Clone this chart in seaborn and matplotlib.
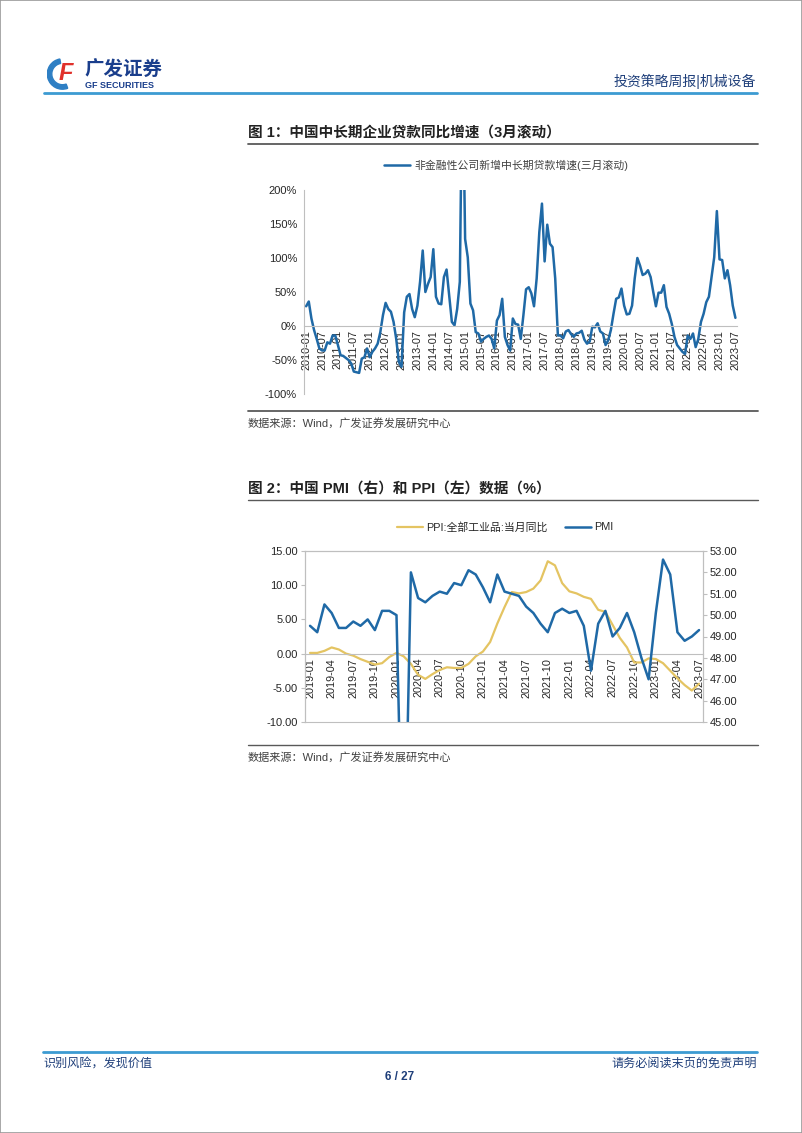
import matplotlib
matplotlib.use("Agg")
import matplotlib.pyplot as plt
import seaborn as sns
import pandas as pd
from matplotlib.lines import Line2D
from matplotlib.patches import Rectangle, Wedge
from matplotlib.ticker import FuncFormatter

# 图1：中长期企业贷款同比增速（3月滚动），月度，2010-01 起
loan_start = "2010-01"
loan_label = "非金融性公司新增中长期贷款增速(三月滚动)"
loan_growth = [
    29, 36, 11, -6, -19, -33, -36, -36, -24, -26, -14, -14,      # 2010
    -28, -43, -44, -47, -50, -55, -67, -68, -69, -48, -46, -33,  # 2011
    -46, -38, -33, -26, -9, 16, 34, 25, 21, 6, -19, -53,         # 2012
    -60, 20, 43, 47, 25, 13, 30, 65, 111, 50, 62, 72,            # 2013
    113, 43, 33, 32, 72, 83, 45, 6, 1, 25, 65, 400,              # 2014
    128, 101, 33, 23, -9, -11, -23, -19, -16, -14, -19, -33,     # 2015
    8, 16, 40, -16, -28, -36, 11, 3, 2, -19, 16, 54,             # 2016
    57, 48, 29, 70, 138, 180, 95, 149, 121, 116, 70, -14,        # 2017
    -14, -18, -8, -6, -12, -16, -11, -10, -7, -20, -26, -23,     # 2018
    -1, -2, 4, -8, -11, -28, -21, -6, 18, 40, 42, 55,            # 2019
    30, 17, 18, 30, 70, 100, 89, 75, 77, 82, 72, 50,             # 2020
    29, 49, 49, 60, 28, 18, 3, -16, -28, -33, -38, -41,          # 2021
    -14, -19, -11, -31, -19, 6, 18, 35, 43, 72, 101, 169,        # 2022
    98, 97, 70, 82, 60, 30, 12,                                  # 2023
]

# 图2：PMI（右轴）和 PPI（左轴），月度，2019-01 起
macro_start = "2019-01"
ppi_label = "PPI:全部工业品:当月同比"
pmi_label = "PMI"
ppi = [
    0.1, 0.1, 0.4, 0.9, 0.6, 0.0, -0.3, -0.8, -1.2, -1.6, -1.4, -0.5,
    0.1, -0.4, -1.5, -3.1, -3.7, -3.0, -2.4, -2.0, -2.1, -2.1, -1.5, -0.4,
    0.3, 1.7, 4.4, 6.8, 9.0, 8.8, 9.0, 9.5, 10.7, 13.5, 12.9, 10.3,
    9.1, 8.8, 8.3, 8.0, 6.4, 6.1, 4.2, 2.3, 0.9, -1.3, -1.3, -0.7,
    -0.8, -1.4, -2.5, -3.6, -4.6, -5.4, -4.4,
]
pmi = [
    49.5, 49.2, 50.5, 50.1, 49.4, 49.4, 49.7, 49.5, 49.8, 49.3, 50.2, 50.2,
    50.0, 35.7, 52.0, 50.8, 50.6, 50.9, 51.1, 51.0, 51.5, 51.4, 52.1, 51.9,
    51.3, 50.6, 51.9, 51.1, 51.0, 50.9, 50.4, 50.1, 49.6, 49.2, 50.1, 50.3,
    50.1, 50.2, 49.5, 47.4, 49.6, 50.2, 49.0, 49.4, 50.1, 49.2, 48.0, 47.0,
    50.1, 52.6, 51.9, 49.2, 48.8, 49.0, 49.3,
]

BLUE = "#1F69A6"
YELLOW = "#E4C462"
AXIS_GRAY = "#BFBFBF"
RULE_GRAY = "#595959"
NAVY = "#1F3F7A"
HEAD_BLUE = "#3C9BD2"

sns.set_style("white")
plt.rcParams["font.family"] = ["Liberation Sans", "Noto Sans CJK SC"]
plt.rcParams["axes.unicode_minus"] = False

W, H = 802, 1133


def fx(px):
    return px / W


def fy(py):
    return 1 - py / H


def hline(y, x0, x1, color, lw):
    fig.add_artist(Line2D([fx(x0), fx(x1)], [fy(y), fy(y)],
                          transform=fig.transFigure, color=color, lw=lw))


fig = plt.figure(figsize=(W / 100, H / 100), dpi=100)

# 页面边框
fig.add_artist(Rectangle((0, 0), 1, 1, transform=fig.transFigure,
                         fill=False, edgecolor="#9A9A9A", lw=1.2))

# 页眉
ax_logo = fig.add_axes([fx(45), fy(90), fx(80) - fx(45), fy(58) - fy(90)])
ax_logo.set_xlim(-1, 1)
ax_logo.set_ylim(-1, 1)
ax_logo.set_aspect("equal")
ax_logo.axis("off")
ax_logo.add_patch(Wedge((0, 0), 0.95, 100, 290, width=0.28, color="#2E7FC4"))
ax_logo.text(0.2, 0.0, "F", color="#E0312B", fontsize=17, fontweight="bold",
             ha="center", va="center", style="italic")
fig.text(fx(84), fy(70), "广发证券", fontsize=14, fontweight="bold",
         color="#1A3E8C", va="center", family=["Noto Sans CJK SC"])
fig.text(fx(85), fy(86), "GF SECURITIES", fontsize=6.5, fontweight="bold",
         color="#1A3E8C", va="center")
fig.text(fx(756), fy(81), "投资策略周报|机械设备", fontsize=10, color=NAVY,
         ha="right", va="center")
hline(93, 44, 757, HEAD_BLUE, 2.0)

# 页脚
hline(1052, 43, 757, HEAD_BLUE, 2.0)
fig.text(fx(43), fy(1064), "识别风险，发现价值", fontsize=8.7, color=NAVY, va="center")
fig.text(fx(757), fy(1064), "请务必阅读末页的免责声明", fontsize=8.7, color=NAVY,
         ha="right", va="center")
fig.text(fx(400), fy(1077), "6 / 27", fontsize=8.5, fontweight="bold", color=NAVY,
         ha="center", va="center")

# ---------------- 图 1 ----------------
fig.text(fx(248), fy(133), "图 1：中国中长期企业贷款同比增速（3月滚动）",
         fontsize=10.5, fontweight="bold", color="#222222", va="center")
hline(144, 248, 758, RULE_GRAY, 1.3)
hline(411, 248, 758, RULE_GRAY, 1.3)
fig.text(fx(248), fy(423), "数据来源：Wind，广发证券发展研究中心",
         fontsize=8, color="#404040", va="center")

months1 = pd.period_range(loan_start, periods=len(loan_growth), freq="M")
df1 = pd.DataFrame({"idx": range(len(loan_growth)), "value": loan_growth})

ax1 = fig.add_axes([fx(304), fy(394), fx(737) - fx(304), fy(190) - fy(394)])
sns.lineplot(data=df1, x="idx", y="value", ax=ax1, color=BLUE, linewidth=1.8)
ax1.set_xlim(-0.8, len(loan_growth) - 0.4)
ax1.set_ylim(-100, 200)
ax1.set_yticks(range(-100, 201, 50))
ax1.yaxis.set_major_formatter(FuncFormatter(lambda v, p: f"{v:.0f}%"))
ticks1 = list(range(0, len(loan_growth), 6))
ax1.set_xticks(ticks1)
ax1.set_xticklabels([str(months1[i]) for i in ticks1])
ax1.set_xlabel("")
ax1.set_ylabel("")
ax1.spines["top"].set_visible(False)
ax1.spines["right"].set_visible(False)
ax1.spines["left"].set_color(AXIS_GRAY)
ax1.spines["bottom"].set_color(AXIS_GRAY)
ax1.spines["bottom"].set_position(("data", 0))
ax1.tick_params(axis="y", labelsize=8, colors="#262626", length=3,
                color=AXIS_GRAY, pad=2)
ax1.tick_params(axis="x", labelsize=7.8, colors="#262626", length=0, pad=3,
                labelrotation=90)

fig.legend(handles=[Line2D([], [], color=BLUE, lw=1.8)], labels=[loan_label],
           loc="center", bbox_to_anchor=(fx(506), fy(165)), frameon=False,
           fontsize=7.8, handlelength=2.4, handletextpad=0.4, labelcolor="#404040")

# ---------------- 图 2 ----------------
fig.text(fx(248), fy(489), "图 2：中国 PMI（右）和 PPI（左）数据（%）",
         fontsize=10.5, fontweight="bold", color="#222222", va="center")
hline(500, 248, 758, RULE_GRAY, 1.0)
hline(745, 248, 758, RULE_GRAY, 1.0)
fig.text(fx(248), fy(757), "数据来源：Wind，广发证券发展研究中心",
         fontsize=8, color="#404040", va="center")

months2 = pd.period_range(macro_start, periods=len(ppi), freq="M")
df2 = pd.DataFrame({"idx": range(len(ppi)), "ppi": ppi, "pmi": pmi})

ax2 = fig.add_axes([fx(305), fy(722), fx(703) - fx(305), fy(551) - fy(722)])
sns.lineplot(data=df2, x="idx", y="ppi", ax=ax2, color=YELLOW, linewidth=1.6)
ax2.set_xlim(-0.7, len(ppi) - 0.45)
ax2.set_ylim(-10, 15)
ax2.set_yticks(range(-10, 16, 5))
ax2.yaxis.set_major_formatter(FuncFormatter(lambda v, p: f"{v:.2f}"))
ticks2 = list(range(0, len(ppi), 3))
ax2.set_xticks(ticks2)
ax2.set_xticklabels([str(months2[i]) for i in ticks2])
ax2.set_xlabel("")
ax2.set_ylabel("")
for s in ax2.spines.values():
    s.set_color(AXIS_GRAY)
ax2.spines["bottom"].set_position(("data", 0))
ax2.tick_params(axis="y", labelsize=8, colors="#262626", length=3,
                color=AXIS_GRAY, pad=2)
ax2.tick_params(axis="x", labelsize=7.8, colors="#262626", length=0, pad=3,
                labelrotation=90)

ax2r = ax2.twinx()
sns.lineplot(data=df2, x="idx", y="pmi", ax=ax2r, color=BLUE, linewidth=1.8)
ax2r.set_ylim(45, 53)
ax2r.set_yticks(range(45, 54, 1))
ax2r.yaxis.set_major_formatter(FuncFormatter(lambda v, p: f"{v:.2f}"))
ax2r.set_ylabel("")
for s in ax2r.spines.values():
    s.set_color(AXIS_GRAY)
ax2r.tick_params(axis="y", labelsize=8, colors="#262626", length=3,
                 color=AXIS_GRAY, pad=2)

fig.legend(handles=[Line2D([], [], color=YELLOW, lw=1.6),
                    Line2D([], [], color=BLUE, lw=1.8)],
           labels=[ppi_label, pmi_label], ncol=2,
           loc="center", bbox_to_anchor=(fx(505), fy(527)), frameon=False,
           fontsize=7.8, handlelength=2.4, handletextpad=0.3, columnspacing=1.6,
           labelcolor="#262626")

fig.savefig("out.png", dpi=100)
